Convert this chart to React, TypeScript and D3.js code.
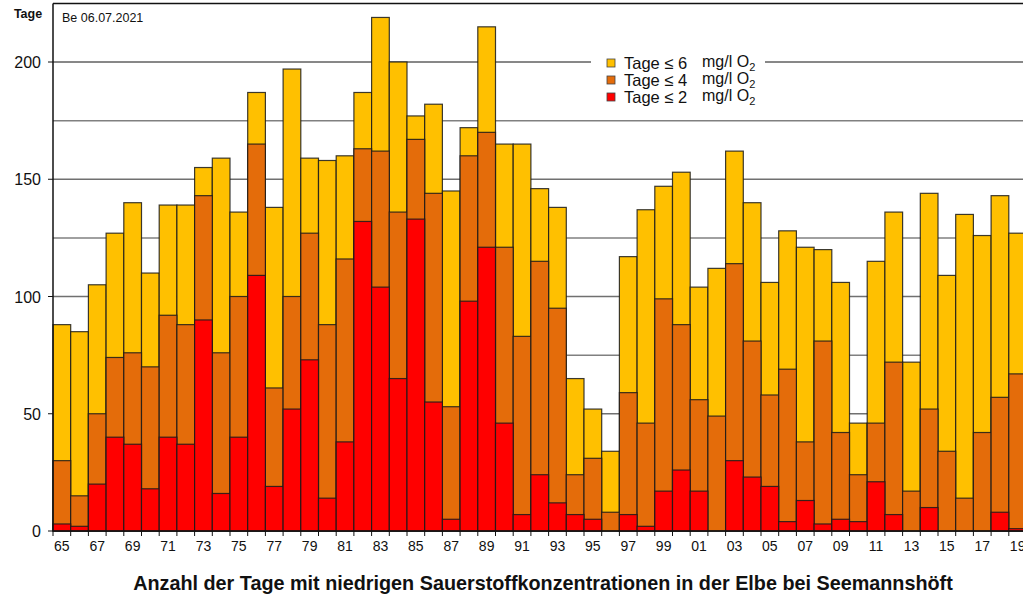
import { useRef, useEffect } from "react";
import * as d3 from "d3";

// Jahre 1965-2019, Tage mit niedrigem O2
const years = d3.range(1965, 2020).map((y) => String(y));
const days6 = [88, 85, 105, 127, 140, 110, 139, 139, 155, 159, 136, 187, 138, 197, 159, 158, 160, 187, 219, 200, 177, 182, 145, 172, 215, 165, 165, 146, 138, 65, 52, 34, 117, 137, 147, 153, 104, 112, 162, 140, 106, 128, 121, 120, 106, 46, 115, 136, 72, 144, 109, 135, 126, 143, 127];
const days4 = [30, 15, 50, 74, 76, 70, 92, 88, 143, 76, 100, 165, 61, 100, 127, 88, 116, 163, 162, 136, 167, 144, 53, 160, 170, 121, 83, 115, 95, 24, 31, 8, 59, 46, 99, 88, 56, 49, 114, 81, 58, 69, 38, 81, 42, 24, 46, 72, 17, 52, 34, 14, 42, 57, 67];
const days2 = [3, 2, 20, 40, 37, 18, 40, 37, 90, 16, 40, 109, 19, 52, 73, 14, 38, 132, 104, 65, 133, 55, 5, 98, 121, 46, 7, 24, 12, 7, 5, 0, 7, 2, 17, 26, 17, 0, 30, 23, 19, 4, 13, 3, 5, 4, 21, 7, 0, 10, 0, 0, 0, 8, 1];
const yTicks = [0, 50, 100, 150, 200];
const gridMinor = [25, 75, 125, 175];

const series = [
  { label: "Tage \u2264 6", values: days6, color: "#FFC000" },
  { label: "Tage \u2264 4", values: days4, color: "#E46C0A" },
  { label: "Tage \u2264 2", values: days2, color: "#FF0000" },
];

const width = 1023;
const height = 595;
const font = "'Liberation Sans', Arial, sans-serif";

const App = () => {
  const svgRef = useRef<SVGSVGElement>(null);

  useEffect(() => {
    const svg = d3.select(svgRef.current).attr("width", width).attr("height", height);
    svg.selectAll("*").remove();

    const left = 53;
    const bandW = 17.7;
    const x = d3
      .scaleBand()
      .domain(years)
      .range([left, left + bandW * years.length])
      .padding(0);

    const y = d3.scaleLinear().domain([0, 200]).range([531, 62]);
    const top = y(225);

    // Gitternetz
    svg
      .append("g")
      .selectAll("line.minor")
      .data(gridMinor)
      .enter()
      .append("line")
      .attr("x1", left)
      .attr("x2", width)
      .attr("y1", (d) => y(d))
      .attr("y2", (d) => y(d))
      .attr("stroke", "#808080")
      .attr("stroke-width", 1.5);

    svg
      .append("g")
      .selectAll("line.major")
      .data(yTicks.slice(1))
      .enter()
      .append("line")
      .attr("x1", left)
      .attr("x2", width)
      .attr("y1", (d) => y(d))
      .attr("y2", (d) => y(d))
      .attr("stroke", (d) => (d === 200 ? "#111" : "#707070"))
      .attr("stroke-width", (d) => (d === 200 ? 1 : 1.5));

    // Legende (weißer Hintergrund über der 200er-Linie)
    const lg = svg.append("g");
    lg.append("rect").attr("x", 591).attr("y", 50).attr("width", 174).attr("height", 58).attr("fill", "#fff");
    series.forEach((s, i) => {
      const ly = 63 + i * 17;
      lg.append("rect")
        .attr("x", 607)
        .attr("y", ly - 4)
        .attr("width", 8)
        .attr("height", 8)
        .attr("fill", s.color)
        .attr("stroke", "#444")
        .attr("stroke-width", 0.8);
      lg.append("text")
        .attr("x", 624)
        .attr("y", ly + 6)
        .attr("font-family", font)
        .attr("font-size", 16.5)
        .attr("fill", "#111")
        .text(s.label);
      const t = lg
        .append("text")
        .attr("x", 702)
        .attr("y", ly + 4)
        .attr("font-family", font)
        .attr("font-size", 16)
        .attr("fill", "#111");
      t.append("tspan").text("mg/l O");
      t.append("tspan").attr("font-size", 11).attr("dy", 4).text("2");
    });

    // Balken: gestapelt von hinten (≤6) nach vorn (≤2)
    series.forEach((s) => {
      svg
        .append("g")
        .selectAll("rect")
        .data(s.values)
        .enter()
        .append("rect")
        .attr("x", (_, i) => x(years[i])!)
        .attr("y", (d) => y(d))
        .attr("width", x.bandwidth())
        .attr("height", (d) => y(0) - y(d))
        .attr("fill", s.color)
        .attr("stroke", "#1a1a1a")
        .attr("stroke-opacity", (d) => (d > 0 ? 0.85 : 0))
        .attr("stroke-width", 1.2);
    });

    // Achsen
    svg.append("line").attr("x1", left).attr("x2", width).attr("y1", top).attr("y2", top).attr("stroke", "#111").attr("stroke-width", 1.5);
    svg.append("line").attr("x1", left).attr("x2", left).attr("y1", top).attr("y2", y(0)).attr("stroke", "#111").attr("stroke-width", 1.5);
    svg.append("line").attr("x1", left).attr("x2", width).attr("y1", y(0)).attr("y2", y(0)).attr("stroke", "#111").attr("stroke-width", 1.5);

    const ya = svg.append("g");
    yTicks.forEach((v) => {
      ya.append("line").attr("x1", left - 5).attr("x2", left).attr("y1", y(v)).attr("y2", y(v)).attr("stroke", "#111");
      ya.append("text")
        .attr("x", 41)
        .attr("y", y(v) + 6)
        .attr("text-anchor", "end")
        .attr("font-family", font)
        .attr("font-size", 16)
        .attr("fill", "#111")
        .text(v);
    });

    const xa = svg.append("g");
    years.forEach((yr, i) => {
      xa.append("line")
        .attr("x1", x(yr)!)
        .attr("x2", x(yr)!)
        .attr("y1", y(0))
        .attr("y2", y(0) + 5)
        .attr("stroke", "#111");
      if (i % 2 === 0) {
        xa.append("text")
          .attr("x", x(yr)! + x.bandwidth() / 2)
          .attr("y", y(0) + 20)
          .attr("text-anchor", "middle")
          .attr("font-family", font)
          .attr("font-size", 14)
          .attr("fill", "#111")
          .text(yr.slice(2));
      }
    });

    svg.append("text")
      .attr("x", 28)
      .attr("y", 18)
      .attr("text-anchor", "middle")
      .attr("font-family", font)
      .attr("font-size", 12.5)
      .attr("font-weight", "bold")
      .attr("fill", "#111")
      .text("Tage");

    svg.append("text")
      .attr("x", 62)
      .attr("y", 22)
      .attr("font-family", font)
      .attr("font-size", 12.5)
      .attr("fill", "#111")
      .text("Be 06.07.2021");

    svg.append("text")
      .attr("x", 543)
      .attr("y", 590)
      .attr("text-anchor", "middle")
      .attr("font-family", font)
      .attr("font-size", 19.8)
      .attr("font-weight", "bold")
      .attr("fill", "#111")
      .text("Anzahl der Tage mit niedrigen Sauerstoffkonzentrationen in der Elbe bei Seemannshöft");
  }, []);

  return (
    <div style={{ position: "fixed", left: 0, top: 0, background: "#fff" }}>
      <svg ref={svgRef} style={{ display: "block" }}></svg>
    </div>
  );
};

export default App;
